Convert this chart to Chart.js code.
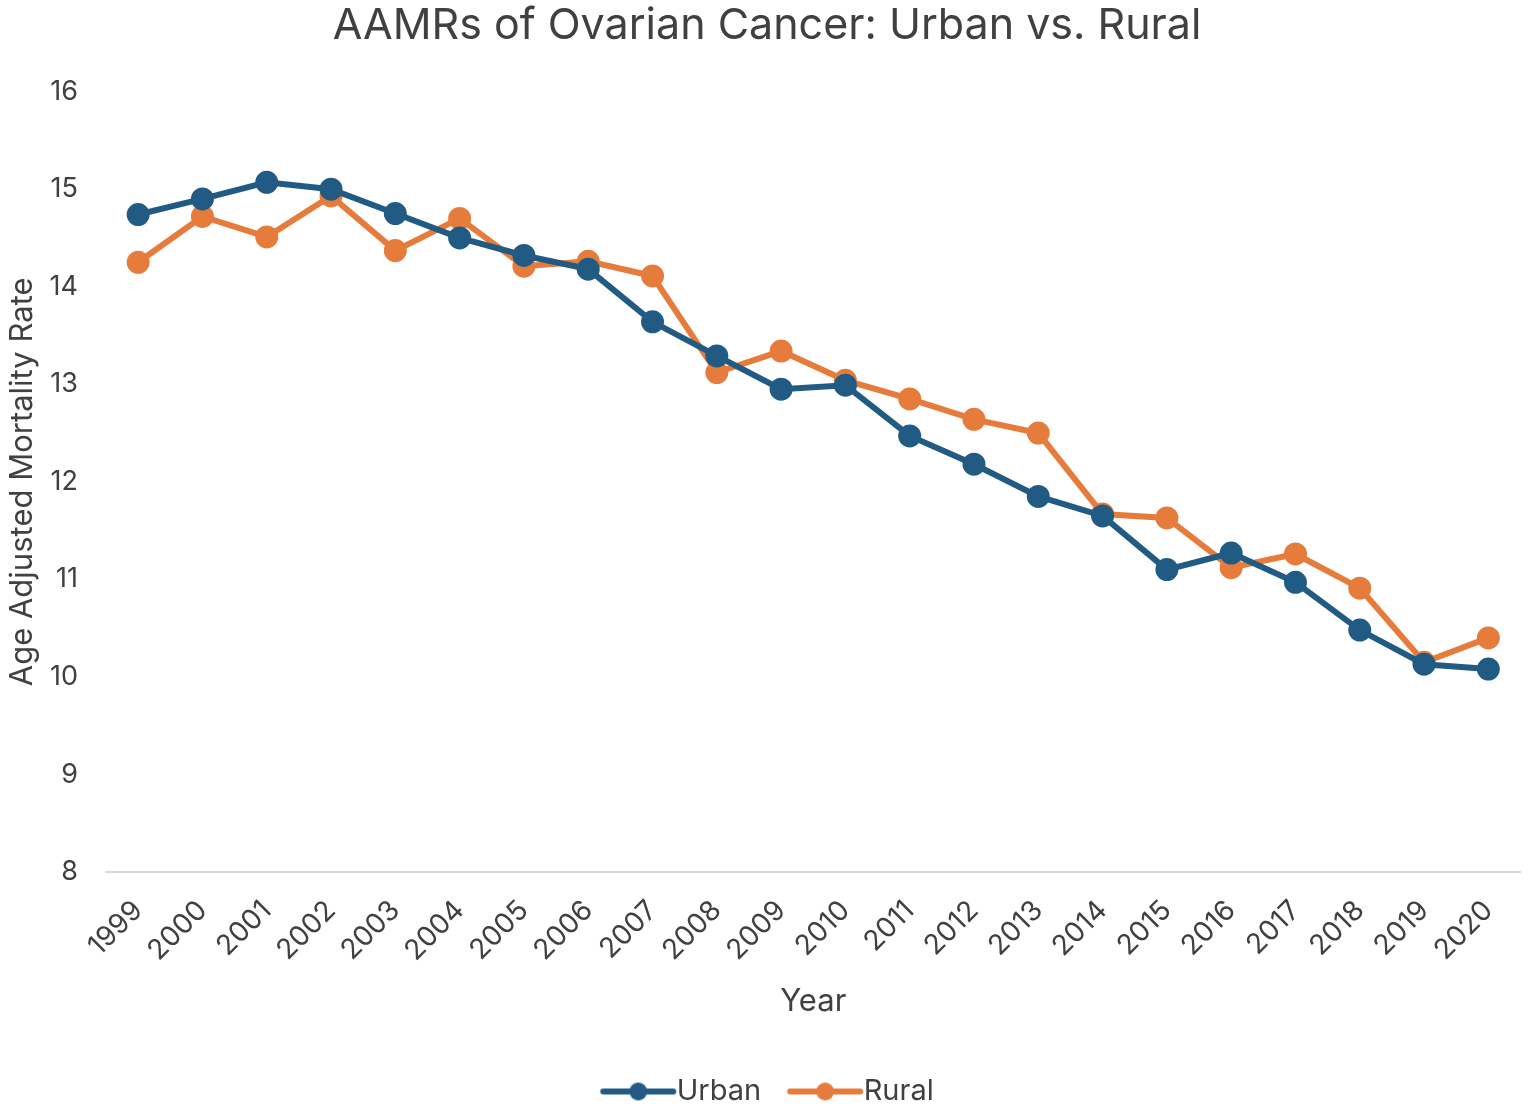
<!DOCTYPE html>
<html>
<head>
<meta charset="utf-8">
<script src="https://cdn.jsdelivr.net/npm/chart.js@4"></script>
<style>
  html, body { margin: 0; padding: 0; background: #fff; }
  #wrap { width: 1535px; height: 1111px; }
</style>
</head>
<body>
<div id="wrap"><canvas id="aamrChart"></canvas></div>
<script>
const years = ['1999','2000','2001','2002','2003','2004','2005','2006','2007','2008','2009',
               '2010','2011','2012','2013','2014','2015','2016','2017','2018','2019','2020'];
const urban = [14.74, 14.90, 15.07, 15.00, 14.75, 14.50, 14.32, 14.18, 13.64, 13.29, 12.95,
               12.99, 12.47, 12.18, 11.85, 11.65, 11.10, 11.27, 10.97, 10.48, 10.13, 10.08];
const rural = [14.25, 14.72, 14.51, 14.93, 14.37, 14.70, 14.21, 14.26, 14.11, 13.12, 13.34,
               13.04, 12.85, 12.64, 12.50, 11.67, 11.63, 11.12, 11.26, 10.91, 10.15, 10.40];
const yTicks = [8, 9, 10, 11, 12, 13, 14, 15, 16];

const BLUE = '#215b84';
const ORANGE = '#e67c3b';
const TEXT = '#404040';
const FONT = 'Inter, "Noto Sans", sans-serif';

// legend icon: short line with a dot in the middle, shifted right a bit
function legendIcon(color) {
    const c = document.createElement('canvas');
    c.width = 96; c.height = 24;
    const g = c.getContext('2d');
    g.strokeStyle = color;
    g.lineWidth = 6;
    g.lineCap = 'round';
    g.beginPath();
    g.moveTo(20, 12); g.lineTo(90, 12);
    g.stroke();
    g.fillStyle = color;
    g.beginPath();
    g.arc(55, 12, 9, 0, Math.PI * 2);
    g.fill();
    return c;
}

const ctx = document.getElementById('aamrChart').getContext('2d');
new Chart(ctx, {
    type: 'line',
    data: {
        labels: years,
        datasets: [{
            label: 'Urban',
            data: urban,
            borderColor: BLUE,
            backgroundColor: BLUE,
            borderWidth: 6,
            pointRadius: 8.5,
            pointBackgroundColor: BLUE,
            pointBorderColor: BLUE,
            tension: 0
        }, {
            label: 'Rural',
            data: rural,
            borderColor: ORANGE,
            backgroundColor: ORANGE,
            borderWidth: 6,
            pointRadius: 8.5,
            pointBackgroundColor: ORANGE,
            pointBorderColor: ORANGE,
            tension: 0
        }]
    },
    options: {
        responsive: true,
        maintainAspectRatio: false,
        animation: false,
        layout: { padding: { left: 4, right: 5, top: 0, bottom: -5 } },
        plugins: {
            title: {
                display: true,
                text: 'AAMRs of Ovarian Cancer: Urban vs. Rural',
                color: TEXT,
                font: { family: FONT, size: 43, weight: 'normal' },
                padding: { top: 0, bottom: 40 }
            },
            legend: {
                position: 'bottom',
                labels: {
                    color: TEXT,
                    font: { family: FONT, size: 29 },
                    usePointStyle: true,
                    pointStyleWidth: 62,
                    boxHeight: 24,
                    padding: 26,
                    generateLabels: chart => chart.data.datasets.map((ds, i) => ({
                        text: ds.label,
                        fontColor: TEXT,
                        pointStyle: legendIcon(ds.borderColor),
                        datasetIndex: i,
                        hidden: false,
                        lineWidth: 0
                    }))
                }
            },
            tooltip: { enabled: false }
        },
        scales: {
            x: {
                offset: true,
                grid: { display: false, drawTicks: false },
                border: { display: true, color: '#d9d9d9', width: 2 },
                ticks: {
                    color: TEXT,
                    font: { family: FONT, size: 28 },
                    maxRotation: 45,
                    minRotation: 45,
                    padding: 22
                },
                title: {
                    display: true,
                    text: 'Year',
                    color: TEXT,
                    font: { family: FONT, size: 31 },
                    padding: { top: 20, bottom: 31 }
                },
                afterFit: s => { s.paddingLeft = 0; s.paddingRight = 0; s.height = 179; }
            },
            y: {
                min: 8,
                max: 16,
                afterBuildTicks: axis => { axis.ticks = yTicks.map(v => ({ value: v })); },
                grid: { display: false, drawTicks: false },
                border: { display: false },
                ticks: {
                    color: TEXT,
                    font: { family: FONT, size: 27 },
                    padding: 28
                },
                title: {
                    display: true,
                    text: 'Age Adjusted Mortality Rate',
                    color: TEXT,
                    font: { family: FONT, size: 31 },
                    padding: { top: 0, bottom: 4 }
                },
                afterFit: s => { s.width = 102; s.paddingTop = 0; s.paddingBottom = 0; }
            }
        }
    }
});
</script>
</body>
</html>
